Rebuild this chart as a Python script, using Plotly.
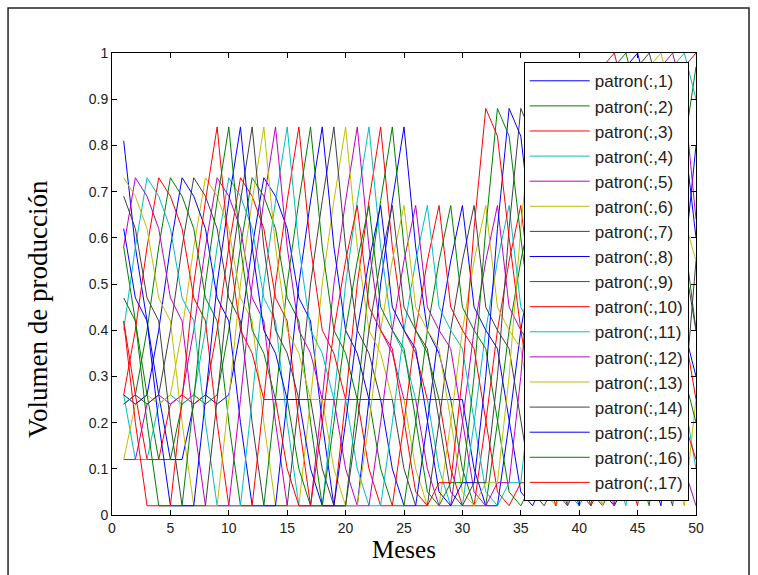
import plotly.graph_objects as go

# Underlying monthly series (T = 1..66); each column patron(:,k) is the window serie[k-1 : k+49]
serie = [0.81, 0.58, 0.42, 0.26, 0.12, 0.12, 0.24, 0.26, 0.24, 0.26,
         0.40, 0.58, 0.73, 0.69, 0.62, 0.47, 0.42, 0.20, 0.02, 0.02,
         0.02, 0.25, 0.50, 0.68, 0.84, 0.58, 0.40, 0.35, 0.25, 0.25,
         0.10, 0.02, 0.02, 0.20, 0.40, 0.55, 0.67, 0.45, 0.40, 0.36,
         0.20, 0.05, 0.02, 0.07, 0.07, 0.30, 0.62, 0.88, 0.82, 0.60,
         0.40, 0.25, 0.10, 0.02, 0.25, 0.55, 0.80, 0.97, 1.00, 0.90,
         0.64, 0.55, 0.40, 0.30, 0.20, 0.12]
meses = list(range(1, 51))
n_patrones = 17
nombres = [f"patron(:,{k})" for k in range(1, n_patrones + 1)]

colores = ["rgb(0,0,255)", "rgb(0,128,0)", "rgb(255,0,0)", "rgb(0,191,191)",
           "rgb(191,0,191)", "rgb(191,191,0)", "rgb(64,64,64)"]

fig = go.Figure()
for k in range(n_patrones):
    valores = serie[k:k + len(meses)]
    fig.add_trace(go.Scatter(
        x=meses, y=valores, mode="lines", name=nombres[k],
        legendgroup=nombres[k],
        line=dict(color=colores[k % 7], width=1),
    ))

axis_common = dict(
    showline=True, linecolor="black", linewidth=1, mirror="ticks",
    ticks="inside", ticklen=5, tickcolor="black", showgrid=False, zeroline=False,
    tickfont=dict(family="Liberation Sans, Arial", size=14, color="#222"),
)

fig.update_layout(
    width=758, height=575,
    margin=dict(l=112, r=62, t=53, b=60),
    paper_bgcolor="white", plot_bgcolor="white",
    xaxis=dict(range=[0, 50], dtick=5, tick0=0,
               title=dict(text="Meses", standoff=2,
                          font=dict(family="Liberation Serif, Times New Roman", size=25, color="black")),
               **axis_common),
    yaxis=dict(range=[0, 1], dtick=0.1, tick0=0, **axis_common),
    legend=dict(x=0.705, y=0.98, xanchor="left", yanchor="top",
                bgcolor="white", bordercolor="black", borderwidth=1,
                font=dict(family="Liberation Sans, Arial", size=17, color="#222"),
                itemwidth=60, tracegroupgap=0),
    showlegend=True,
)

fig.add_annotation(text="Volumen de producción", xref="paper", yref="paper",
                   x=-0.1267, y=0.446, xanchor="center", yanchor="middle",
                   textangle=-90, showarrow=False,
                   font=dict(family="Liberation Serif, Times New Roman", size=27, color="black"))

# outer frame of the figure
fig.add_shape(type="rect", xref="paper", yref="paper",
              x0=-0.178, x1=1.0908, y0=-0.15, y1=1.0974,
              line=dict(color="#222", width=1.5), layer="above")

fig.write_html("out.html")
